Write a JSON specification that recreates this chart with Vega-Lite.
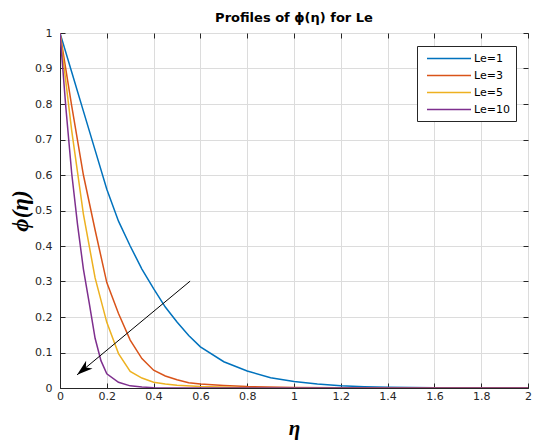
{
  "$schema": "https://vega.github.io/schema/vega-lite/v6.json",
  "width": 468,
  "height": 355,
  "autosize": "none",
  "padding": {"left": 60, "top": 33, "right": 5, "bottom": 53},
  "background": "white",
  "config": {
    "view": {"stroke": "#262626", "strokeWidth": 1},
    "axis": {
      "labelFont": "DejaVu Sans",
      "labelFontSize": 11,
      "labelColor": "#262626",
      "domainColor": "#262626",
      "tickColor": "#262626",
      "gridColor": "#dcdcdc",
      "gridWidth": 1,
      "tickSize": -5,
      "tickWidth": 1
    }
  },
  "title": {
    "text": "Profiles of ϕ(η) for Le",
    "font": "DejaVu Sans",
    "fontSize": 13,
    "fontWeight": "bold",
    "color": "#000000",
    "anchor": "middle",
    "frame": "group",
    "offset": 2
  },
  "datasets": {
    "curves": [
      {"eta": 0, "phi": 1, "Le": "Le=1"},
      {"eta": 0.05, "phi": 0.89, "Le": "Le=1"},
      {"eta": 0.1, "phi": 0.78, "Le": "Le=1"},
      {"eta": 0.15, "phi": 0.67, "Le": "Le=1"},
      {"eta": 0.2, "phi": 0.56, "Le": "Le=1"},
      {"eta": 0.25, "phi": 0.47, "Le": "Le=1"},
      {"eta": 0.3, "phi": 0.4, "Le": "Le=1"},
      {"eta": 0.35, "phi": 0.335, "Le": "Le=1"},
      {"eta": 0.4, "phi": 0.28, "Le": "Le=1"},
      {"eta": 0.45, "phi": 0.228, "Le": "Le=1"},
      {"eta": 0.5, "phi": 0.186, "Le": "Le=1"},
      {"eta": 0.55, "phi": 0.148, "Le": "Le=1"},
      {"eta": 0.6, "phi": 0.116, "Le": "Le=1"},
      {"eta": 0.7, "phi": 0.074, "Le": "Le=1"},
      {"eta": 0.8, "phi": 0.048, "Le": "Le=1"},
      {"eta": 0.9, "phi": 0.029, "Le": "Le=1"},
      {"eta": 1.0, "phi": 0.018, "Le": "Le=1"},
      {"eta": 1.1, "phi": 0.011, "Le": "Le=1"},
      {"eta": 1.2, "phi": 0.006, "Le": "Le=1"},
      {"eta": 1.3, "phi": 0.0035, "Le": "Le=1"},
      {"eta": 1.4, "phi": 0.002, "Le": "Le=1"},
      {"eta": 1.6, "phi": 0.0007, "Le": "Le=1"},
      {"eta": 1.8, "phi": 0.0002, "Le": "Le=1"},
      {"eta": 2.0, "phi": 0, "Le": "Le=1"},
      {"eta": 0, "phi": 1, "Le": "Le=3"},
      {"eta": 0.05, "phi": 0.795, "Le": "Le=3"},
      {"eta": 0.1, "phi": 0.6, "Le": "Le=3"},
      {"eta": 0.15, "phi": 0.445, "Le": "Le=3"},
      {"eta": 0.2, "phi": 0.297, "Le": "Le=3"},
      {"eta": 0.25, "phi": 0.21, "Le": "Le=3"},
      {"eta": 0.3, "phi": 0.135, "Le": "Le=3"},
      {"eta": 0.35, "phi": 0.083, "Le": "Le=3"},
      {"eta": 0.4, "phi": 0.05, "Le": "Le=3"},
      {"eta": 0.45, "phi": 0.034, "Le": "Le=3"},
      {"eta": 0.5, "phi": 0.023, "Le": "Le=3"},
      {"eta": 0.55, "phi": 0.015, "Le": "Le=3"},
      {"eta": 0.6, "phi": 0.011, "Le": "Le=3"},
      {"eta": 0.7, "phi": 0.007, "Le": "Le=3"},
      {"eta": 0.8, "phi": 0.004, "Le": "Le=3"},
      {"eta": 1.0, "phi": 0.0015, "Le": "Le=3"},
      {"eta": 1.2, "phi": 0.0004, "Le": "Le=3"},
      {"eta": 1.5, "phi": 0.0001, "Le": "Le=3"},
      {"eta": 2.0, "phi": 0, "Le": "Le=3"},
      {"eta": 0, "phi": 1, "Le": "Le=5"},
      {"eta": 0.05, "phi": 0.725, "Le": "Le=5"},
      {"eta": 0.1, "phi": 0.49, "Le": "Le=5"},
      {"eta": 0.15, "phi": 0.31, "Le": "Le=5"},
      {"eta": 0.2, "phi": 0.185, "Le": "Le=5"},
      {"eta": 0.25, "phi": 0.097, "Le": "Le=5"},
      {"eta": 0.3, "phi": 0.047, "Le": "Le=5"},
      {"eta": 0.35, "phi": 0.028, "Le": "Le=5"},
      {"eta": 0.4, "phi": 0.016, "Le": "Le=5"},
      {"eta": 0.45, "phi": 0.011, "Le": "Le=5"},
      {"eta": 0.5, "phi": 0.008, "Le": "Le=5"},
      {"eta": 0.6, "phi": 0.004, "Le": "Le=5"},
      {"eta": 0.8, "phi": 0.001, "Le": "Le=5"},
      {"eta": 1.0, "phi": 0.0003, "Le": "Le=5"},
      {"eta": 2.0, "phi": 0, "Le": "Le=5"},
      {"eta": 0, "phi": 1, "Le": "Le=10"},
      {"eta": 0.025, "phi": 0.79, "Le": "Le=10"},
      {"eta": 0.05, "phi": 0.605, "Le": "Le=10"},
      {"eta": 0.075, "phi": 0.46, "Le": "Le=10"},
      {"eta": 0.1, "phi": 0.335, "Le": "Le=10"},
      {"eta": 0.125, "phi": 0.239, "Le": "Le=10"},
      {"eta": 0.15, "phi": 0.14, "Le": "Le=10"},
      {"eta": 0.175, "phi": 0.077, "Le": "Le=10"},
      {"eta": 0.2, "phi": 0.04, "Le": "Le=10"},
      {"eta": 0.25, "phi": 0.016, "Le": "Le=10"},
      {"eta": 0.3, "phi": 0.006, "Le": "Le=10"},
      {"eta": 0.35, "phi": 0.003, "Le": "Le=10"},
      {"eta": 0.4, "phi": 0.001, "Le": "Le=10"},
      {"eta": 0.5, "phi": 0.0003, "Le": "Le=10"},
      {"eta": 2.0, "phi": 0, "Le": "Le=10"}
    ],
    "arrow": [
      {"x": 0.556, "y": 0.301, "x2": 0.073, "y2": 0.037}
    ]
  },
  "layer": [
    {
      "data": {"name": "curves"},
      "mark": {"type": "line", "strokeWidth": 1.5, "clip": true},
      "encoding": {
        "x": {
          "field": "eta", "type": "quantitative",
          "scale": {"domain": [0, 2], "nice": false},
          "axis": {
            "orient": "bottom",
            "values": [0, 0.2, 0.4, 0.6, 0.8, 1, 1.2, 1.4, 1.6, 1.8, 2],
            "format": "~g",
            "labelPadding": 7,
            "labelFlush": false,
            "title": "η",
            "titleFont": "Liberation Serif",
            "titleFontStyle": "italic",
            "titleFontWeight": "bold",
            "titleFontSize": 21,
            "titleColor": "#000000",
            "titlePadding": 16
          }
        },
        "y": {
          "field": "phi", "type": "quantitative",
          "scale": {"domain": [0, 1], "nice": false},
          "axis": {
            "orient": "left",
            "values": [0, 0.1, 0.2, 0.3, 0.4, 0.5, 0.6, 0.7, 0.8, 0.9, 1],
            "format": "~g",
            "labelPadding": 13,
            "labelFlush": false,
            "title": "ϕ(η)",
            "titleFont": "Liberation Serif",
            "titleFontStyle": "italic",
            "titleFontWeight": "bold",
            "titleFontSize": 23,
            "titleColor": "#000000",
            "titlePadding": 2
          }
        },
        "color": {
          "field": "Le", "type": "nominal",
          "scale": {
            "domain": ["Le=1", "Le=3", "Le=5", "Le=10"],
            "range": ["#0072BD", "#D95319", "#EDB120", "#7E2F8E"]
          },
          "legend": {
            "title": null,
            "orient": "none",
            "legendX": 357,
            "legendY": 13,
            "symbolType": "M-4,0H4",
            "symbolSize": 121,
            "symbolStrokeWidth": 1.5,
            "symbolOffset": 19.5,
            "labelOffset": 18.5,
            "labelFont": "DejaVu Sans",
            "labelFontSize": 11,
            "labelColor": "#000000",
            "strokeColor": "#262626",
            "fillColor": "white",
            "padding": 6,
            "rowPadding": 5
          }
        }
      }
    },
    {
      "data": {"name": "arrow"},
      "mark": {"type": "rule", "color": "#000000", "strokeWidth": 1},
      "encoding": {
        "x": {"field": "x", "type": "quantitative",
          "axis": {"orient": "top", "values": [0, 0.2, 0.4, 0.6, 0.8, 1, 1.2, 1.4, 1.6, 1.8, 2], "labels": false, "grid": false, "title": null, "domain": false}},
        "y": {"field": "y", "type": "quantitative",
          "axis": {"orient": "right", "values": [0, 0.1, 0.2, 0.3, 0.4, 0.5, 0.6, 0.7, 0.8, 0.9, 1], "labels": false, "grid": false, "title": null, "domain": false}},
        "x2": {"field": "x2"},
        "y2": {"field": "y2"}
      }
    },
    {
      "data": {"name": "arrow"},
      "mark": {"type": "point", "shape": "M0,0L0.5,1.6L0,1.15L-0.5,1.6Z", "size": 400, "angle": 230, "filled": true, "color": "#000000", "opacity": 1},
      "encoding": {
        "x": {"field": "x2", "type": "quantitative", "axis": null},
        "y": {"field": "y2", "type": "quantitative", "axis": null}
      }
    }
  ],
  "resolve": {"axis": {"x": "independent", "y": "independent"}}
}
